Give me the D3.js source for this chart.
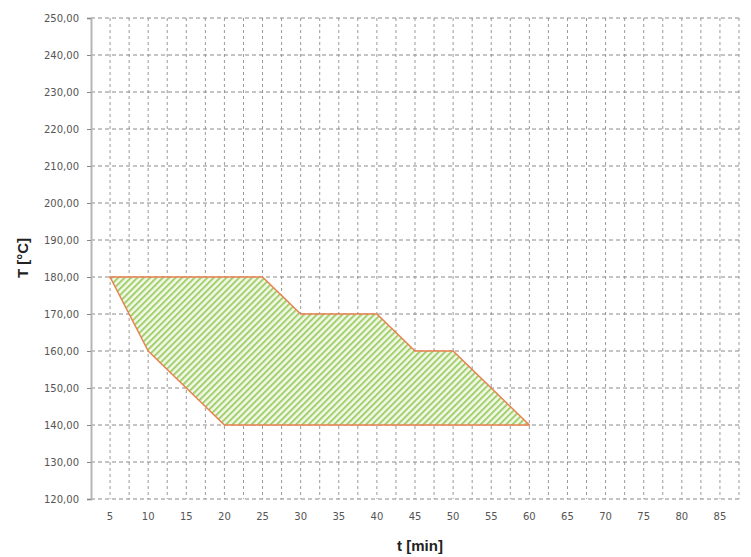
<!DOCTYPE html>
<html><head><meta charset="utf-8">
<script src="https://cdn.jsdelivr.net/npm/d3@7"></script>
<style>body{margin:0;background:#fff}svg{display:block}</style>
</head><body><svg id="c" width="751" height="557"></svg>
<script>
const categories = [5,10,15,20,25,30,35,40,45,50,55,60,65,70,75,80,85];
const shapeTimes = [5,10,15,20,25,30,35,40,45,50,55,60];
const upperTemp  = [180,180,180,180,180,170,170,170,160,160,150,140];
const lowerTemp  = [180,160,150,140,140,140,140,140,140,140,140,140];
const yTicks = [120,130,140,150,160,170,180,190,200,210,220,230,240,250];

const svg = d3.select("#c");
const L = 91, R = 739, T = 18, B = 499;
const x = d3.scaleBand().domain(categories).range([L, R]).padding(0);
const cx = d => x(d) + x.bandwidth()/2;
const y = d3.scaleLinear().domain([120,250]).range([B, T]);

// pattern
const defs = svg.append("defs");
const pat = defs.append("pattern").attr("id","hatch").attr("patternUnits","userSpaceOnUse")
  .attr("width",4.5).attr("height",4.5).attr("patternTransform","rotate(45)");
pat.append("rect").attr("width",4.5).attr("height",4.5).attr("fill","#f3f9ea");
pat.append("rect").attr("x",0).attr("width",2).attr("height",4.5).attr("fill","#a2d06c");

const grid = svg.append("g");
const vx = [];
categories.forEach(c => { vx.push(x(c)); vx.push(cx(c)); });
vx.push(R);
grid.selectAll("line.v").data(vx.slice(1)).join("line")
  .attr("x1", d=>d).attr("x2", d=>d).attr("y1", T).attr("y2", B)
  .attr("stroke","#9a9a9a").attr("stroke-width",1).attr("stroke-dasharray","3,3");
grid.selectAll("line.h").data(yTicks).join("line")
  .attr("x1", L).attr("x2", R).attr("y1", d=>y(d)).attr("y2", d=>y(d))
  .attr("stroke","#8a8a8a").attr("stroke-width",1).attr("stroke-dasharray","4,3");

// area
const rows = shapeTimes.map((t,i)=>({t, hi: upperTemp[i], lo: lowerTemp[i]}));
const area = d3.area().x(d=>cx(d.t)).y0(d=>y(d.lo)).y1(d=>y(d.hi));
svg.append("path").datum(rows).attr("d", area)
  .attr("fill","url(#hatch)").attr("stroke","#e8804f").attr("stroke-width",1.5)
  .attr("stroke-linejoin","round");

// y axis
const ya = svg.append("g").attr("transform",`translate(${L},0)`)
  .call(d3.axisLeft(y).tickValues(yTicks).tickSize(4).tickPadding(8)
    .tickFormat(d => d3.format(".2f")(d).replace(".", ",")));
ya.select(".domain").attr("stroke","#b5b5b5").attr("stroke-width",2);
ya.selectAll(".tick line").attr("stroke","#888");
ya.selectAll("text").attr("fill","#555").style("font-family","DejaVu Sans, sans-serif").style("font-size","10px");

// x axis labels
const xa = svg.append("g").attr("transform",`translate(0,${B})`)
  .call(d3.axisBottom(x).tickSize(0).tickPadding(14));
xa.select(".domain").remove();
xa.selectAll("text").attr("fill","#555").style("font-family","DejaVu Sans, sans-serif").style("font-size","10px");

// titles
svg.append("text").attr("x",420).attr("y",551).attr("text-anchor","middle")
  .style("font-family","Liberation Sans, Arial, sans-serif").style("font-weight","bold")
  .style("font-size","15px").attr("fill","#222").text("t [min]");
svg.append("text").attr("transform","translate(28,258) rotate(-90)").attr("text-anchor","middle")
  .style("font-family","Liberation Sans, Arial, sans-serif").style("font-weight","bold")
  .style("font-size","15px").attr("fill","#222").text("T  [°C]");
</script></body></html>
